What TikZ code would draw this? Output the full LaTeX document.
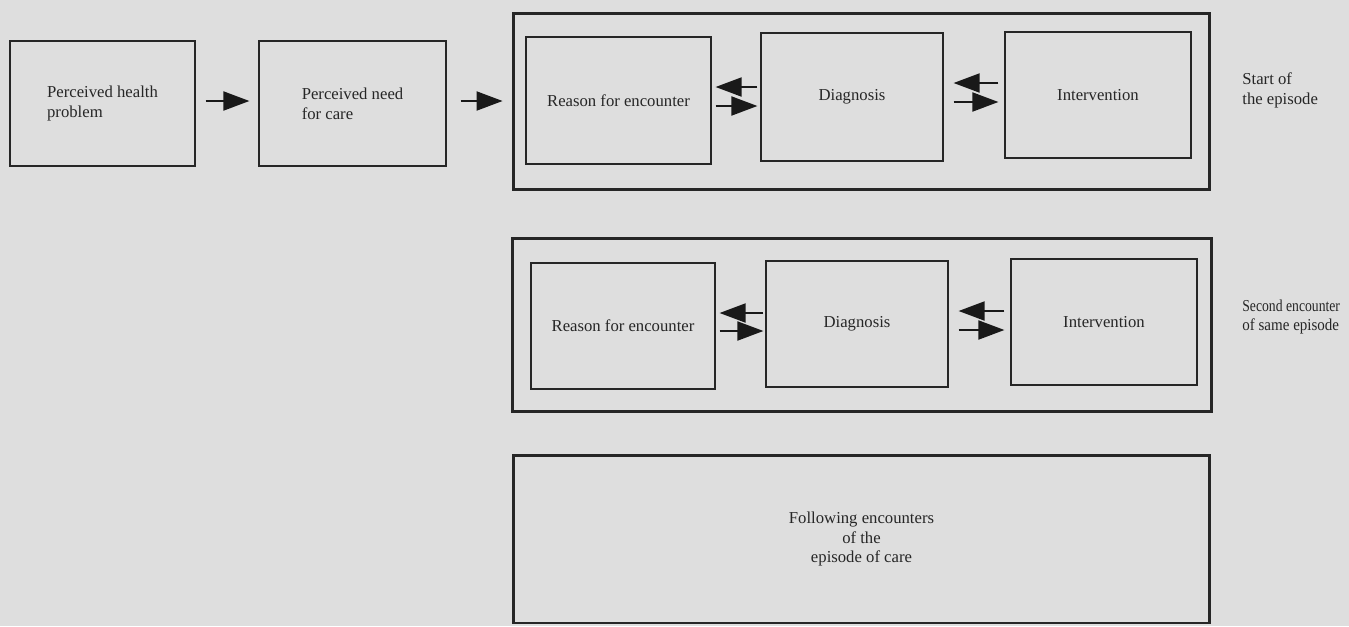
\documentclass[tikz,border=0pt]{standalone}
\usepackage{fontspec}
\setmainfont{Liberation Serif}
\usepackage{graphicx}
\usetikzlibrary{arrows.meta}
\definecolor{paper}{RGB}{222,222,222}
\definecolor{ink}{RGB}{38,38,38}
\tikzset{
	box/.style={draw=ink, line width=0.7pt, minimum width=#1, minimum height=2.52cm,
		inner sep=2pt, align=center, text=ink, font=\fontsize{9.5}{11.3}\selectfont},
	box/.default=3.7cm,
	episode/.style={draw=ink, line width=1.7pt, minimum width=13.94cm, minimum height=3.5cm,
		align=center, text=ink, font=\fontsize{9.5}{11.3}\selectfont},
	sidenote/.style={anchor=west, align=left, inner sep=0pt, text=ink,
		font=\fontsize{9.5}{11}\selectfont},
	arr/.style={draw=black!90, line width=1.1pt, -{Triangle[length=0.52cm,width=0.38cm]}}
}
\begin{document}
\begin{tikzpicture}[x=0.02cm, y=-0.02cm]
\fill[paper] (0,0) rectangle (1349,626);
% before the encounter
\node[box=3.7cm, minimum height=2.5cm, align=left] (problem) at (102.5,103.5) {Perceived health\\problem};
\node[box=3.74cm, minimum height=2.5cm, align=left] (need) at (352.5,103.5) {Perceived need\\for care};
% start of the episode
\node[episode, minimum height=3.54cm] (first) at (861.5,101.5) {};
\node[box=3.7cm, minimum height=2.54cm] (rfeA) at (618.5,100.5) {Reason for encounter};
\node[box=3.64cm, minimum height=2.56cm] (diagA) at (852,97) {Diagnosis};
\node[box=3.72cm] (intA) at (1098,95) {Intervention};
\node[sidenote] (startnote) at (1242,90.5) {Start of\\the episode};
% second encounter
\node[episode, minimum width=14cm, minimum height=3.48cm] (second) at (862,325) {};
\node[box=3.68cm] (rfeB) at (623,326) {Reason for encounter};
\node[box=3.64cm] (diagB) at (857,324) {Diagnosis};
\node[box=3.72cm] (intB) at (1104,322) {Intervention};
\node[sidenote] (secondnote) at (1242,317) {\scalebox{0.82}[1]{Second encounter}\\\scalebox{0.9}[1]{of same episode}};
% following encounters
\node[episode, minimum height=3.36cm] (rest) at (861.5,539) {Following encounters\\of the\\episode of care};
% arrows
\draw[arr, shorten <=0.2cm, shorten >=0.18cm] (problem.east |- 0,101) -- (need.west |- 0,101);
\draw[arr, shorten <=0.28cm, shorten >=0.18cm] (need.east |- 0,101) -- (first.west |- 0,101);
\draw[arr, shorten <=0.06cm, shorten >=0.08cm] (diagA.west |- 0,87) -- (rfeA.east |- 0,87);
\draw[arr, shorten <=0.08cm, shorten >=0.06cm] (rfeA.east |- 0,106) -- (diagA.west |- 0,106);
\draw[arr, shorten <=0.12cm, shorten >=0.2cm] (intA.west |- 0,83) -- (diagA.east |- 0,83);
\draw[arr, shorten <=0.2cm, shorten >=0.12cm] (diagA.east |- 0,102) -- (intA.west |- 0,102);
\draw[arr, shorten <=0.04cm, shorten >=0.08cm] (diagB.west |- 0,313) -- (rfeB.east |- 0,313);
\draw[arr, shorten <=0.08cm, shorten >=0.04cm] (rfeB.east |- 0,331) -- (diagB.west |- 0,331);
\draw[arr, shorten <=0.12cm, shorten >=0.2cm] (intB.west |- 0,311) -- (diagB.east |- 0,311);
\draw[arr, shorten <=0.2cm, shorten >=0.12cm] (diagB.east |- 0,330) -- (intB.west |- 0,330);
\end{tikzpicture}
\end{document}
